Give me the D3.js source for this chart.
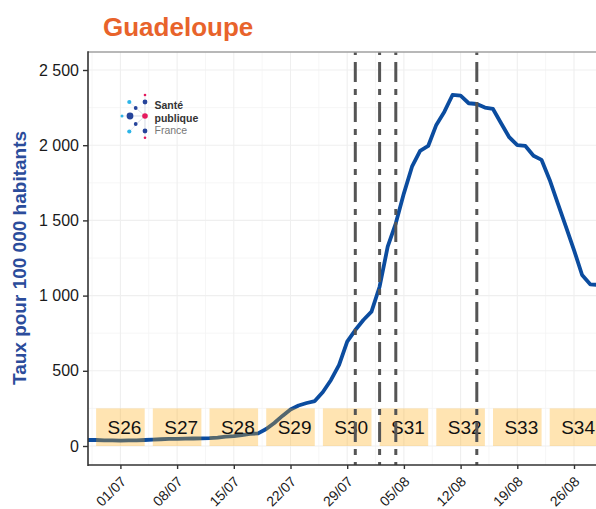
<!DOCTYPE html>
<html>
<head>
<meta charset="utf-8">
<script src="https://cdn.jsdelivr.net/npm/d3@7"></script>
<style>
  body{margin:0;background:#fff;}
  text{font-family:'Liberation Sans',Arial,sans-serif;}
</style>
</head>
<body>
<div id="chart-area"></div>
<script>
// Guadeloupe - taux d'incidence pour 100 000 habitants

// daily values, from 27/06 to 29/08
const startDate='2021-06-27';
const rates=[40,40,38,37,36,37,38,40,43,45,47,48,49,50,51,52,56,62,66,73,80,84,
    113,153,200,243,269,286,299,359,439,539,694,771,838,893,1059,1325,1481,1680,
    1857,1962,1995,2135,2223,2334,2329,2279,2274,2250,2241,2146,2053,2000,1995,
    1930,1902,1769,1614,1458,1303,1137,1075,1071];

// weeks shown as shaded boxes
const weeks=['S26','S27','S28','S29','S30','S31','S32','S33','S34'];
const weekStarts=['2021-06-28','2021-07-05','2021-07-12','2021-07-19','2021-07-26',
    '2021-08-02','2021-08-09','2021-08-16','2021-08-23'];
const weekBoxTop=250;

// dates of the dot-dash lines
const eventDates=['2021-07-30','2021-08-02','2021-08-04','2021-08-14'];

// tick labels
const xTickLabels=['01/07','08/07','15/07','22/07','29/07','05/08','12/08','19/08','26/08'];
const yTicks=[0,500,1000,1500,2000,2500];

const W=596, H=509;
const pLeft=88, pTop=52, pBottom=465, pRight=599;

const parse=d3.timeParse('%Y-%m-%d');
const parseTick=d3.timeParse('%d/%m/%Y');
const t0=parse(startDate);
const days=d3.timeDay.range(t0,d3.timeDay.offset(t0,rates.length));
const data=days.map((d,i)=>({date:d,value:rates[i]}));

const svg=d3.select('#chart-area').append('svg')
    .attr('width',W)
    .attr('height',H);

const x=d3.scaleTime()
    .domain([t0,d3.timeDay.offset(t0,63)])
    .range([pLeft,pLeft+63*8.1]);

const y=d3.scaleLinear()
    .domain([0,2500])
    .range([446,70]);

const frLocale=d3.formatLocale({decimal:',',thousands:' ',grouping:[3],currency:['','']});
const fmt=frLocale.format(',');

svg.append('defs').append('clipPath').attr('id','panel')
    .append('rect')
    .attr('x',pLeft).attr('y',pTop)
    .attr('width',pRight-pLeft).attr('height',pBottom-pTop);

const xTicks=xTickLabels.map(s=>parseTick(s+'/2021'));

// grid : minor then major
const g=svg.append('g').attr('clip-path','url(#panel)');
g.selectAll('.gy-minor').data(d3.range(250,2750,500))
    .enter().append('line')
    .attr('x1',pLeft).attr('x2',pRight)
    .attr('y1',d=>y(d)).attr('y2',d=>y(d))
    .attr('stroke','#f4f4f4').attr('stroke-width',0.8);
const minorX=[d3.timeHour.offset(xTicks[0],-84)].concat(xTicks.map(d=>d3.timeHour.offset(d,84)));
g.selectAll('.gx-minor').data(minorX)
    .enter().append('line')
    .attr('x1',d=>x(d)).attr('x2',d=>x(d))
    .attr('y1',pTop).attr('y2',pBottom)
    .attr('stroke','#f4f4f4').attr('stroke-width',0.8);
g.selectAll('.gy').data(yTicks)
    .enter().append('line')
    .attr('x1',pLeft).attr('x2',pRight)
    .attr('y1',d=>y(d)).attr('y2',d=>y(d))
    .attr('stroke','#efefef').attr('stroke-width',1.1);
g.selectAll('.gx').data(xTicks)
    .enter().append('line')
    .attr('x1',d=>x(d)).attr('x2',d=>x(d))
    .attr('y1',pTop).attr('y2',pBottom)
    .attr('stroke','#efefef').attr('stroke-width',1.1);

// the rate line
const line=d3.line()
    .x(d=>x(d.date))
    .y(d=>y(d.value));

g.append('path')
    .datum(data)
    .attr('fill','none')
    .attr('stroke','#0b4c9f')
    .attr('stroke-width',3.8)
    .attr('stroke-linejoin','round')
    .attr('d',line);

// week boxes
const wk=weeks.map((w,i)=>({label:w,start:parse(weekStarts[i])}));
g.selectAll('.week').data(wk)
    .enter().append('rect')
    .attr('x',d=>x(d.start))
    .attr('y',y(weekBoxTop))
    .attr('width',d=>x(d3.timeDay.offset(d.start,6))-x(d.start))
    .attr('height',y(0)-y(weekBoxTop))
    .attr('fill','#ffa500')
    .attr('fill-opacity',0.3);

g.selectAll('.week-label').data(wk)
    .enter().append('text')
    .attr('x',d=>x(d3.timeHour.offset(d.start,84)))
    .attr('y',y(weekBoxTop/2)+6.8)
    .attr('text-anchor','middle')
    .attr('font-size','19px')
    .attr('fill','#111')
    .text(d=>d.label);

// dot-dash vertical lines
g.selectAll('.event').data(eventDates.map(parse))
    .enter().append('line')
    .attr('x1',d=>x(d)).attr('x2',d=>x(d))
    .attr('y1',pTop).attr('y2',pBottom)
    .attr('stroke','#555')
    .attr('stroke-width',3)
    .attr('stroke-dasharray','20,7,6,7')
    .attr('stroke-dashoffset',30);

// panel border + axis lines
svg.append('line')
    .attr('x1',pLeft).attr('x2',pRight).attr('y1',pTop).attr('y2',pTop)
    .attr('stroke','#a0a0a0').attr('stroke-width',1.5);
svg.append('line')
    .attr('x1',pLeft).attr('x2',pLeft).attr('y1',pTop-0.7).attr('y2',pBottom+1)
    .attr('stroke','#333').attr('stroke-width',1.6);
svg.append('line')
    .attr('x1',pLeft).attr('x2',pRight).attr('y1',pBottom).attr('y2',pBottom)
    .attr('stroke','#333').attr('stroke-width',1.6);

// y axis
const yAxisGroup=svg.append('g')
    .attr('transform','translate('+pLeft+',0)')
    .call(d3.axisLeft(y).tickValues(yTicks).tickFormat(fmt).tickSize(5).tickPadding(4));
yAxisGroup.select('.domain').remove();
yAxisGroup.selectAll('line').attr('stroke','#333').attr('stroke-width',1.4);
yAxisGroup.selectAll('text')
    .attr('font-size','16px')
    .attr('fill','#1a1a1a')
    .attr('font-family','Liberation Sans, Arial, sans-serif');

// x axis
const xAxisGroup=svg.append('g')
    .attr('transform','translate(0,'+pBottom+')')
    .call(d3.axisBottom(x).tickValues(xTicks).tickFormat(d3.timeFormat('%d/%m')).tickSize(4));
xAxisGroup.select('.domain').remove();
xAxisGroup.selectAll('line').attr('stroke','#333').attr('stroke-width',1.4);
xAxisGroup.selectAll('text')
    .attr('font-size','14px')
    .attr('fill','#1a1a1a')
    .attr('font-family','Liberation Sans, Arial, sans-serif')
    .attr('text-anchor','end')
    .attr('y',0)
    .attr('dy',0)
    .attr('transform','translate(6,17.5) rotate(-45)');

// y axis label
svg.append('text')
    .attr('transform','translate(25.5,258) rotate(-90)')
    .attr('text-anchor','middle')
    .attr('font-size','19px')
    .attr('font-weight',700)
    .attr('fill','#2b4c9b')
    .text('Taux pour 100 000 habitants');

// title
svg.append('text')
    .attr('x',103)
    .attr('y',36)
    .attr('font-size','26px')
    .attr('font-weight',700)
    .attr('fill','#e8632b')
    .text('Guadeloupe');

// Santé publique France logo
const logo=svg.append('g');
const dots=[
    [145,95,1.3,'#e5185d'],[145,102,2.4,'#26449b'],[129.3,102,2.1,'#2db5e8'],
    [135.7,108,1.9,'#26449b'],[122,116,1.5,'#2db5e8'],[130,116,3.4,'#26449b'],
    [145,116,2.8,'#e5185d'],[135.7,124,1.9,'#26449b'],[129.3,131.5,2.1,'#2db5e8'],
    [145,131,2.4,'#26449b'],[145,137.7,1.3,'#e5185d']];
logo.selectAll('line').data(dots)
    .enter().append('line')
    .attr('x1',145).attr('y1',116)
    .attr('x2',d=>d[0]).attr('y2',d=>d[1])
    .attr('stroke','#d8dbe6').attr('stroke-width',0.6);
logo.selectAll('circle').data(dots)
    .enter().append('circle')
    .attr('cx',d=>d[0]).attr('cy',d=>d[1]).attr('r',d=>d[2])
    .attr('fill',d=>d[3]);
const logoText=logo.append('text')
    .attr('font-family','DejaVu Sans, sans-serif');
logoText.append('tspan').attr('x',154.5).attr('y',109)
    .attr('font-size','10.5px').attr('font-weight',700).attr('fill','#333')
    .text('Santé');
logoText.append('tspan').attr('x',154.5).attr('y',121.5)
    .attr('font-size','10.5px').attr('font-weight',700).attr('fill','#333')
    .text('publique');
logoText.append('tspan').attr('x',154.5).attr('y',134)
    .attr('font-size','10.5px').attr('fill','#777')
    .text('France');
</script>
</body>
</html>
